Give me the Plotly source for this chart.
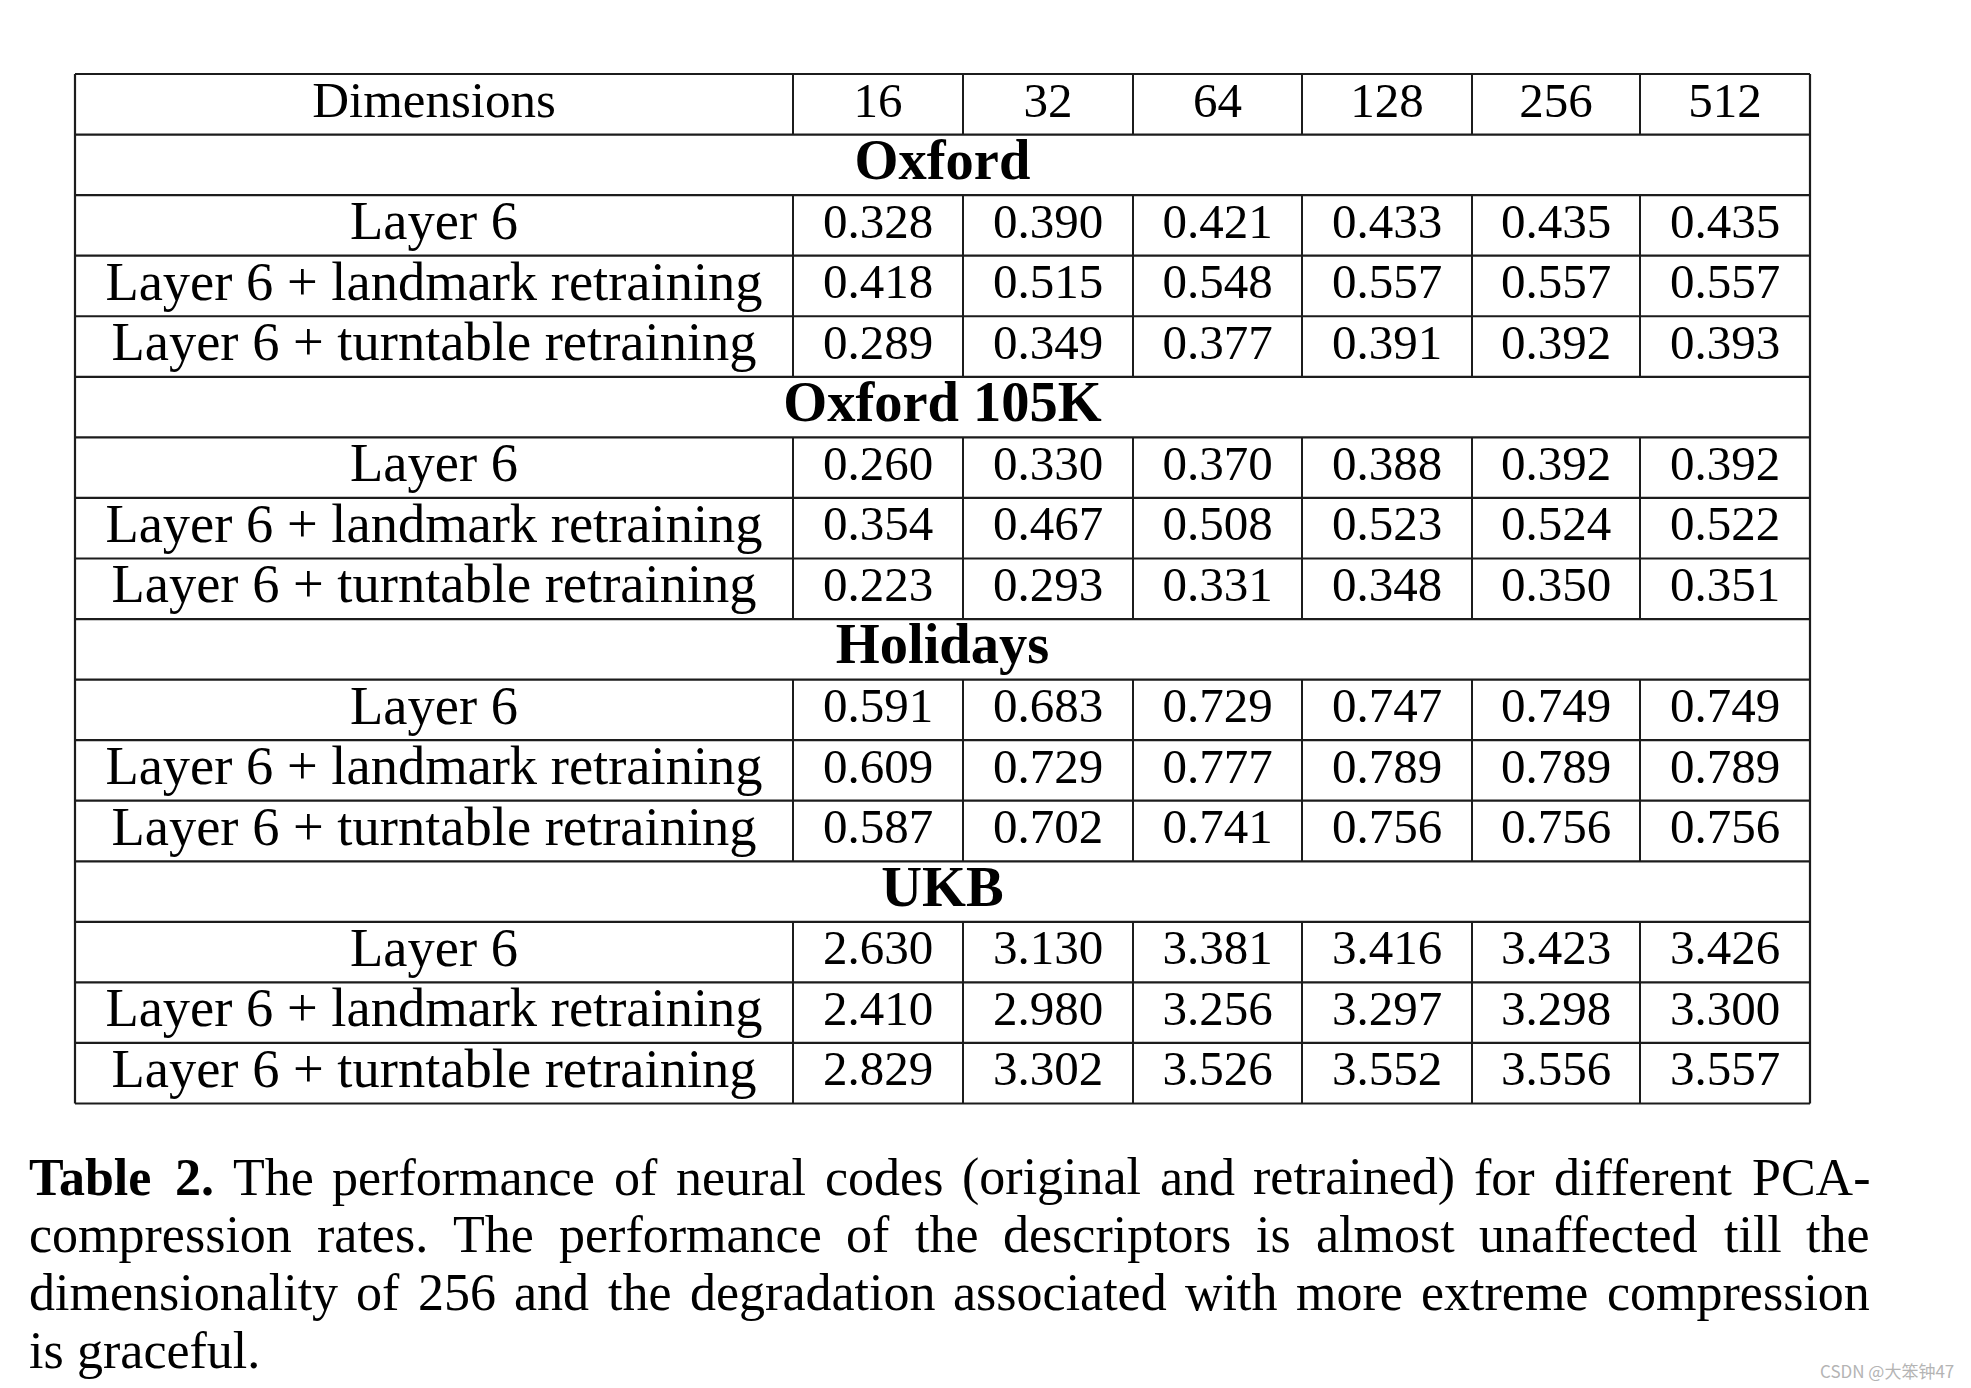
import plotly.graph_objects as go

# table content
dimensions = [16, 32, 64, 128, 256, 512]
datasets = ["Oxford", "Oxford 105K", "Holidays", "UKB"]
methods = ["Layer 6", "Layer 6 + landmark retraining", "Layer 6 + turntable retraining"]

oxford = [
    [0.328, 0.390, 0.421, 0.433, 0.435, 0.435],
    [0.418, 0.515, 0.548, 0.557, 0.557, 0.557],
    [0.289, 0.349, 0.377, 0.391, 0.392, 0.393],
]
oxford_105k = [
    [0.260, 0.330, 0.370, 0.388, 0.392, 0.392],
    [0.354, 0.467, 0.508, 0.523, 0.524, 0.522],
    [0.223, 0.293, 0.331, 0.348, 0.350, 0.351],
]
holidays = [
    [0.591, 0.683, 0.729, 0.747, 0.749, 0.749],
    [0.609, 0.729, 0.777, 0.789, 0.789, 0.789],
    [0.587, 0.702, 0.741, 0.756, 0.756, 0.756],
]
ukb = [
    [2.630, 3.130, 3.381, 3.416, 3.423, 3.426],
    [2.410, 2.980, 3.256, 3.297, 3.298, 3.300],
    [2.829, 3.302, 3.526, 3.552, 3.556, 3.557],
]
values = [oxford, oxford_105k, holidays, ukb]

caption_lines = [
    "The performance of neural codes (original and retrained) for different PCA-",
    "compression rates. The performance of the descriptors is almost unaffected till the",
    "dimensionality of 256 and the degradation associated with more extreme compression",
    "is graceful.",
]
caption_label = "Table 2."
watermark = "CSDN @大笨钟47"

# page geometry (pixels, page coordinates)
W, H = 1971, 1388
PAGE_OFF = 8  # default body margin of the html page
col_edges = [75, 793, 963, 1133, 1302, 1472, 1640, 1810]
top = 74
row_h = 60.56
line_col = "#1c1c1c"
font = "Liberation Serif, Times New Roman, serif"

# rows: ('head',), ('section', name), ('data', method, vals)
rows = [("head",)]
for name, block in zip(datasets, values):
    rows.append(("section", name))
    for m, v in zip(methods, block):
        rows.append(("data", m, v))

def row_y(i):
    return top + row_h * (i + 0.5)

col_centers = [(col_edges[k] + col_edges[k + 1]) / 2 for k in range(len(col_edges) - 1)]
table_mid = (col_edges[0] + col_edges[-1]) / 2

fig = go.Figure()

# cell texts
lab_x, lab_y, lab_t = [], [], []
num_x, num_y, num_t = [], [], []
sec_x, sec_y, sec_t = [], [], []
for i, r in enumerate(rows):
    y = row_y(i)
    if r[0] == "head":
        for k, d in enumerate(dimensions):
            num_x.append(col_centers[k + 1]); num_y.append(y); num_t.append(str(d))
    elif r[0] == "section":
        sec_x.append(table_mid); sec_y.append(y); sec_t.append("<b>%s</b>" % r[1])
    else:
        lab_x.append(col_centers[0]); lab_y.append(y); lab_t.append(r[1])
        for k, v in enumerate(r[2]):
            num_x.append(col_centers[k + 1]); num_y.append(y); num_t.append("%.3f" % v)

fig.add_trace(go.Scatter(x=[col_centers[0]], y=[row_y(0)], text=["Dimensions"], mode="text",
                         textposition="middle center",
                         textfont=dict(family=font, size=51, color="#000"), hoverinfo="skip"))
fig.add_trace(go.Scatter(x=lab_x, y=lab_y, text=lab_t, mode="text", textposition="middle center",
                         textfont=dict(family=font, size=54.5, color="#000"), hoverinfo="skip"))
fig.add_trace(go.Scatter(x=num_x, y=num_y, text=num_t, mode="text", textposition="middle center",
                         textfont=dict(family=font, size=49, color="#000"), hoverinfo="skip"))
fig.add_trace(go.Scatter(x=sec_x, y=sec_y, text=sec_t, mode="text", textposition="middle center",
                         textfont=dict(family=font, size=56.5, color="#000"), hoverinfo="skip"))

# grid lines
bottom = top + row_h * len(rows)
shapes = []
for i in range(len(rows) + 1):
    y = top + row_h * i
    shapes.append(dict(type="line", x0=col_edges[0], x1=col_edges[-1], y0=y, y1=y,
                       line=dict(color=line_col, width=2.2)))
for x in (col_edges[0], col_edges[-1]):
    shapes.append(dict(type="line", x0=x, x1=x, y0=top, y1=bottom, line=dict(color=line_col, width=2.2)))
for i, r in enumerate(rows):
    if r[0] == "section":
        continue
    for x in col_edges[1:-1]:
        shapes.append(dict(type="line", x0=x, x1=x, y0=top + row_h * i, y1=top + row_h * (i + 1),
                           line=dict(color=line_col, width=2)))

# caption, justified using Times metrics
TIMES = {" ": 250, "(": 333, ")": 333, "-": 333, ".": 250, ",": 250, "+": 564,
         "A": 722, "C": 667, "P": 556, "T": 611}
TIMES.update({c: 500 for c in "0123456789"})
TIMES.update(dict(zip("abcdefghijklmnopqrstuvwxyz",
                      [444, 500, 444, 500, 444, 333, 500, 500, 278, 278, 500, 278, 778,
                       500, 500, 500, 500, 333, 389, 278, 500, 500, 722, 500, 500, 444])))
TIMES_BOLD = {"T": 667, "a": 500, "b": 556, "l": 278, "e": 444, "2": 500, ".": 250, " ": 250}

def text_w(s, size, bold=False):
    tbl = TIMES_BOLD if bold else TIMES
    return sum(tbl.get(c, 500) for c in s) * size / 1000.0

cap_size = 52
cap_left, cap_right = 28, 1869
cap_y = [1177, 1234, 1292, 1350]
annotations = []
for li, line in enumerate(caption_lines):
    words = [(w, False) for w in line.split(" ")]
    if li == 0:
        words = [(w, True) for w in caption_label.split(" ")] + words
    widths = [text_w(w, cap_size, b) for w, b in words]
    if li < len(caption_lines) - 1:
        gap = (cap_right - cap_left - sum(widths)) / (len(words) - 1)
    else:
        gap = text_w(" ", cap_size)
    x = cap_left
    for (w, b), wd in zip(words, widths):
        annotations.append(dict(x=x, y=cap_y[li], xref="x", yref="y", xanchor="left", yanchor="middle",
                                text="<b>%s</b>" % w if b else w, showarrow=False, borderpad=0,
                                font=dict(family=font, size=cap_size, color="#000")))
        x += wd + gap

annotations.append(dict(x=1956, y=1370, xref="x", yref="y", xanchor="right", yanchor="middle",
                        text=watermark, showarrow=False,
                        font=dict(family="Noto Sans CJK SC, sans-serif", size=17, color="#b4b4b4")))

fig.update_layout(
    width=W, height=H,
    margin=dict(l=0, r=0, t=0, b=0),
    paper_bgcolor="white", plot_bgcolor="white",
    showlegend=False,
    xaxis=dict(range=[PAGE_OFF, W + PAGE_OFF], visible=False, fixedrange=True),
    yaxis=dict(range=[H + PAGE_OFF, PAGE_OFF], visible=False, fixedrange=True),
    shapes=shapes,
    annotations=annotations,
)

fig.write_html("out.html")
